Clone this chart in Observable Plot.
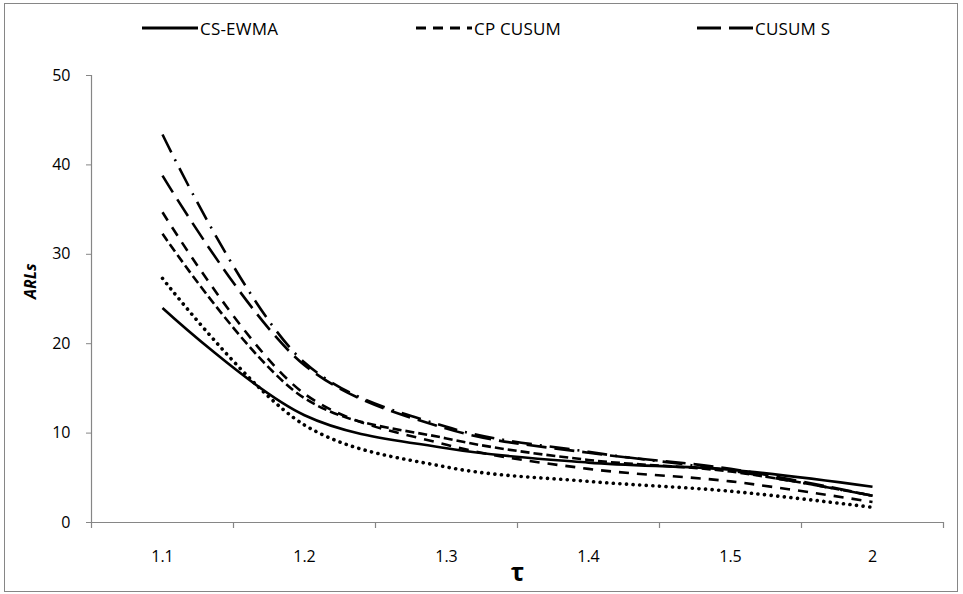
<!DOCTYPE html>
<html>
<head>
<meta charset="utf-8">
<script src="https://cdn.jsdelivr.net/npm/d3@7"></script>
<script src="https://cdn.jsdelivr.net/npm/@observablehq/plot@0.6"></script>
<style>
  html, body { margin: 0; padding: 0; background: #fff; }
  #wrap { position: relative; width: 963px; height: 594px; font-family: "Open Sans", "Noto Sans", sans-serif; }
  #border { position: absolute; left: 4px; top: 3px; width: 952px; height: 587px; border: 1px solid #868686; pointer-events: none; }
  #legend { position: absolute; top: 16px; left: 0; width: 963px; height: 24px; }
  .item { position: absolute; top: 0; display: flex; align-items: center; font-size: 17px; color: #000; white-space: nowrap; letter-spacing: 0.2px; }
  .item svg { display: block; margin-right: 2px; }
  #chart { position: absolute; left: 0; top: 0; }
</style>
</head>
<body>
<div id="wrap">
  <div id="chart"></div>
  <div id="legend"></div>
  <div id="border"></div>
</div>
<script>
// ---- data ----
const categories = ["1.1", "1.2", "1.3", "1.4", "1.5", "2"];
const csEwma   = [24.0, 12.0, 8.3, 6.7, 5.9, 4.0];   // solid
const dotted   = [27.3, 10.9, 6.2, 4.6, 3.5, 1.7];   // round dots
const cpCusum  = [32.3, 13.9, 9.4, 7.0, 5.7, 3.0];   // short dash
const medDash  = [34.7, 14.4, 8.7, 6.0, 4.6, 2.3];   // dash
const cusumS   = [38.8, 17.6, 10.5, 7.8, 6.0, 3.0];  // long dash
const dashDot  = [43.4, 17.9, 10.7, 7.9, 5.8, 3.0];  // long dash-dot
const yTicks = [0, 10, 20, 30, 40, 50];
const legendNames = ["CS-EWMA", "CP CUSUM", "CUSUM S"];

// ---- styles ----
const seriesList = [
  {name: "CS-EWMA", values: csEwma, dash: null, cap: "butt"},
  {name: "dotted", values: dotted, dash: "0.1 6.5", cap: "round"},
  {name: "CP CUSUM", values: cpCusum, dash: "9 4", cap: "butt"},
  {name: "dash", values: medDash, dash: "10 8", cap: "butt"},
  {name: "CUSUM S", values: cusumS, dash: "20 8", cap: "butt"},
  {name: "dashdot", values: dashDot, dash: "20 8 2 8", cap: "butt"}
];

const W = 963, H = 594, ML = 91, MR = 20, MT = 75, MB = 72;
const step = (W - ML - MR) / categories.length;
const gray = "#868686";

const lineMarks = seriesList.map(s =>
  Plot.line(categories.map((c, i) => ({tau: c, arl: s.values[i]})), {
    x: "tau", y: "arl", curve: "catmull-rom",
    stroke: "black", strokeWidth: s.name === "dotted" ? 3.6 : 2.6,
    strokeDasharray: s.dash, strokeLinecap: s.cap
  })
);

const chart = Plot.plot({
  width: W, height: H,
  marginLeft: ML, marginRight: MR, marginTop: MT, marginBottom: MB,
  style: {fontFamily: '"Open Sans", "Noto Sans", sans-serif', fontSize: "16px", background: "transparent", color: "black"},
  x: {type: "point", domain: categories, padding: 0.5, label: null},
  y: {domain: [0, 50], label: null},
  marks: [
    Plot.ruleY([0], {stroke: gray, strokeWidth: 1.2}),
    Plot.ruleX([categories[0]], {dx: -step / 2, stroke: gray, strokeWidth: 1.2}),
    Plot.ruleX(categories, {x: d => d, y1: d => 0, y2: d => 0, insetBottom: -6, dx: -step / 2, stroke: gray, strokeWidth: 1.2}),
    Plot.ruleX([categories[categories.length - 1]], {x: d => d, y1: d => 0, y2: d => 0, insetBottom: -6, dx: step / 2, stroke: gray, strokeWidth: 1.2}),
    Plot.axisY({ticks: yTicks, tickSize: 5, tickPadding: 16, stroke: gray, fill: "black", fontSize: 16, label: null}),
    Plot.axisX({tickSize: 0, tickPadding: 28, fill: "black", fontSize: 16, label: null}),
    ...lineMarks,
    Plot.text(["ARLs"], {frameAnchor: "left", dx: -61, rotate: -90, fontWeight: "bold", fontStyle: "italic", fontSize: 16, fill: "black"}),
    Plot.text(["τ"], {frameAnchor: "bottom", dy: 58, fontWeight: "bold", fontSize: 25, fill: "black"})
  ]
});
document.getElementById("chart").appendChild(chart);

// ---- legend (only the three named series, as in the reference) ----
const legendStyles = [
  {left: 142, dash: null},
  {left: 416, dash: "10 7"},
  {left: 697, dash: "24 8"}
];
const legend = document.getElementById("legend");
legendNames.forEach((name, i) => {
  const st = legendStyles[i];
  const item = document.createElement("div");
  item.className = "item";
  item.style.left = st.left + "px";
  item.innerHTML = `<svg width="56" height="24"><line x1="0" x2="56" y1="12" y2="12" stroke="black" stroke-width="3" ${st.dash ? `stroke-dasharray="${st.dash}"` : ""}/></svg><span>${name}</span>`;
  legend.appendChild(item);
});
</script>
</body>
</html>
